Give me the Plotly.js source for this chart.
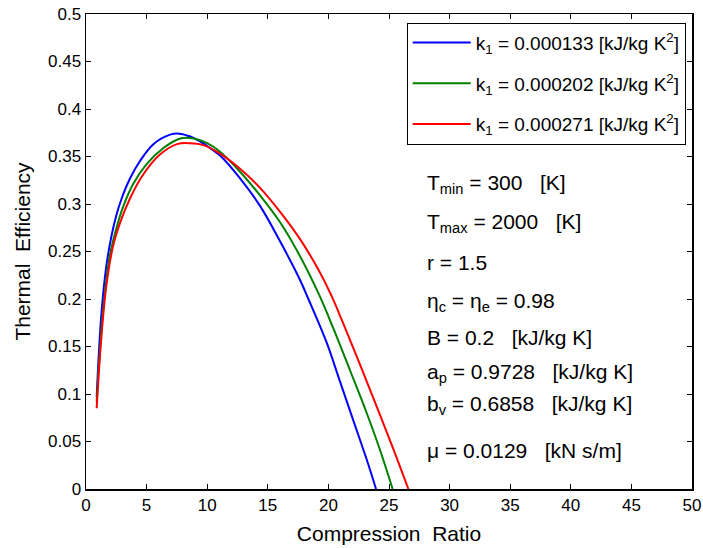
<!DOCTYPE html>
<html>
<head>
<meta charset="utf-8">
<script src="https://cdn.plot.ly/plotly-3.0.1.min.js"></script>
<style>html,body{margin:0;padding:0;background:#fff;}#chart{width:703px;height:548px;}</style>
</head>
<body>
<div id="chart"></div>
<script>
const seriesNames = [
  "k<sub>1</sub> = 0.000133 [kJ/kg K<sup>2</sup>]",
  "k<sub>1</sub> = 0.000202 [kJ/kg K<sup>2</sup>]",
  "k<sub>1</sub> = 0.000271 [kJ/kg K<sup>2</sup>]"
];
const seriesColors = ["#0000FF", "#008000", "#FF0000"];

const xBlue = [0.88, 1.25, 1.67, 2.08, 2.5, 2.92, 3.6, 4.44, 5.56, 6.94, 7.7, 8.6, 9.4, 10, 11.06, 12.71, 14.36, 16.0, 17.66, 18.35, 19.86, 20.96, 22.06, 23.16, 23.93];
const yBlue = [0.097, 0.181, 0.234, 0.265, 0.288, 0.305, 0.326, 0.345, 0.363, 0.373, 0.374, 0.371, 0.366, 0.361, 0.351, 0.327, 0.298, 0.261, 0.220, 0.200, 0.154, 0.113, 0.072, 0.031, 0];

const xGreen = [0.88, 1.39, 1.94, 2.5, 3.06, 3.89, 5, 6.39, 7.78, 8.9, 10, 11.06, 12.71, 14.36, 16.0, 17.66, 19.25, 20.41, 21.78, 23.16, 24.26, 25.3];
const yGreen = [0.092, 0.185, 0.244, 0.274, 0.297, 0.321, 0.342, 0.359, 0.369, 0.369, 0.364, 0.355, 0.334, 0.309, 0.281, 0.245, 0.204, 0.169, 0.125, 0.080, 0.041, 0];

const xRed = [0.88, 1.25, 1.67, 2.22, 2.78, 3.6, 4.72, 6.1, 7.5, 8.6, 9.7, 11.06, 12.71, 14.36, 16.0, 17.66, 19.17, 20.27, 21.23, 22.61, 23.98, 25.36, 26.6];
const yRed = [0.085, 0.157, 0.213, 0.255, 0.279, 0.305, 0.331, 0.352, 0.363, 0.364, 0.362, 0.353, 0.337, 0.317, 0.292, 0.263, 0.231, 0.203, 0.174, 0.131, 0.087, 0.042, 0];

const xTicks = [0, 5, 10, 15, 20, 25, 30, 35, 40, 45, 50];
const yTicks = [0, 0.05, 0.1, 0.15, 0.2, 0.25, 0.3, 0.35, 0.4, 0.45, 0.5];
const yTickText = ["0", "0.05", "0.1", "0.15", "0.2", "0.25", "0.3", "0.35", "0.4", "0.45", "0.5"];

const noteLines = [
  "T<sub>min</sub> = 300\u00A0\u00A0 [K]",
  "T<sub>max</sub> = 2000\u00A0\u00A0 [K]",
  "r = 1.5",
  "\u03B7<sub>c</sub> = \u03B7<sub>e</sub> = 0.98",
  "B = 0.2\u00A0\u00A0 [kJ/kg K]",
  "a<sub>p</sub> = 0.9728\u00A0\u00A0 [kJ/kg K]",
  "b<sub>v</sub> = 0.6858\u00A0\u00A0 [kJ/kg K]",
  "\u03BC = 0.0129\u00A0\u00A0 [kN s/m]"
];
const noteY = [0.321, 0.280, 0.238, 0.197, 0.159, 0.122, 0.088, 0.041];
const noteX = 28;

const xs = [xBlue, xGreen, xRed];
const ys = [yBlue, yGreen, yRed];

const traces = xs.map((x, i) => ({
  x: x, y: ys[i], type: "scatter", mode: "lines",
  name: seriesNames[i], legendgroup: "g" + i,
  line: {color: seriesColors[i], width: 2, shape: "spline", smoothing: 1}
}));

const font = "Liberation Sans, Arial, sans-serif";

const layout = {
  width: 703, height: 548,
  margin: {l: 86, r: 11, t: 14, b: 59},
  paper_bgcolor: "#fff", plot_bgcolor: "#fff",
  font: {family: font, color: "#000", size: 17},
  showlegend: true,
  legend: {
    x: 0.9896, y: 0.9817, xanchor: "right", yanchor: "top",
    bgcolor: "#fff", bordercolor: "#000", borderwidth: 1,
    font: {family: font, size: 19, color: "#000"},
    tracegroupgap: 13, itemwidth: 58
  },
  xaxis: {
    range: [0, 50], tickvals: xTicks, ticks: "inside", ticklen: 5, tickcolor: "#000",
    showline: true, linecolor: "#000", linewidth: 1.5, mirror: "ticks",
    showgrid: false, zeroline: false,
    tickfont: {size: 17},
    title: {text: "Compression\u00A0 Ratio", font: {size: 21}, standoff: 12}
  },
  yaxis: {
    range: [0, 0.5], tickvals: yTicks, ticktext: yTickText, ticks: "inside", ticklen: 5, tickcolor: "#000",
    showline: true, linecolor: "#000", linewidth: 1.5, mirror: "ticks",
    showgrid: false, zeroline: false,
    tickfont: {size: 17},
    title: {text: "Thermal\u00A0 Efficiency", font: {size: 21}, standoff: 11}
  },
  annotations: noteLines.map((t, i) => ({
    x: noteX, y: noteY[i], xref: "x", yref: "y", xanchor: "left", yanchor: "middle",
    text: t, showarrow: false, font: {family: font, size: 21, color: "#000"}
  }))
};

Plotly.newPlot("chart", traces, layout, {displayModeBar: false, staticPlot: true});
</script>
</body>
</html>
